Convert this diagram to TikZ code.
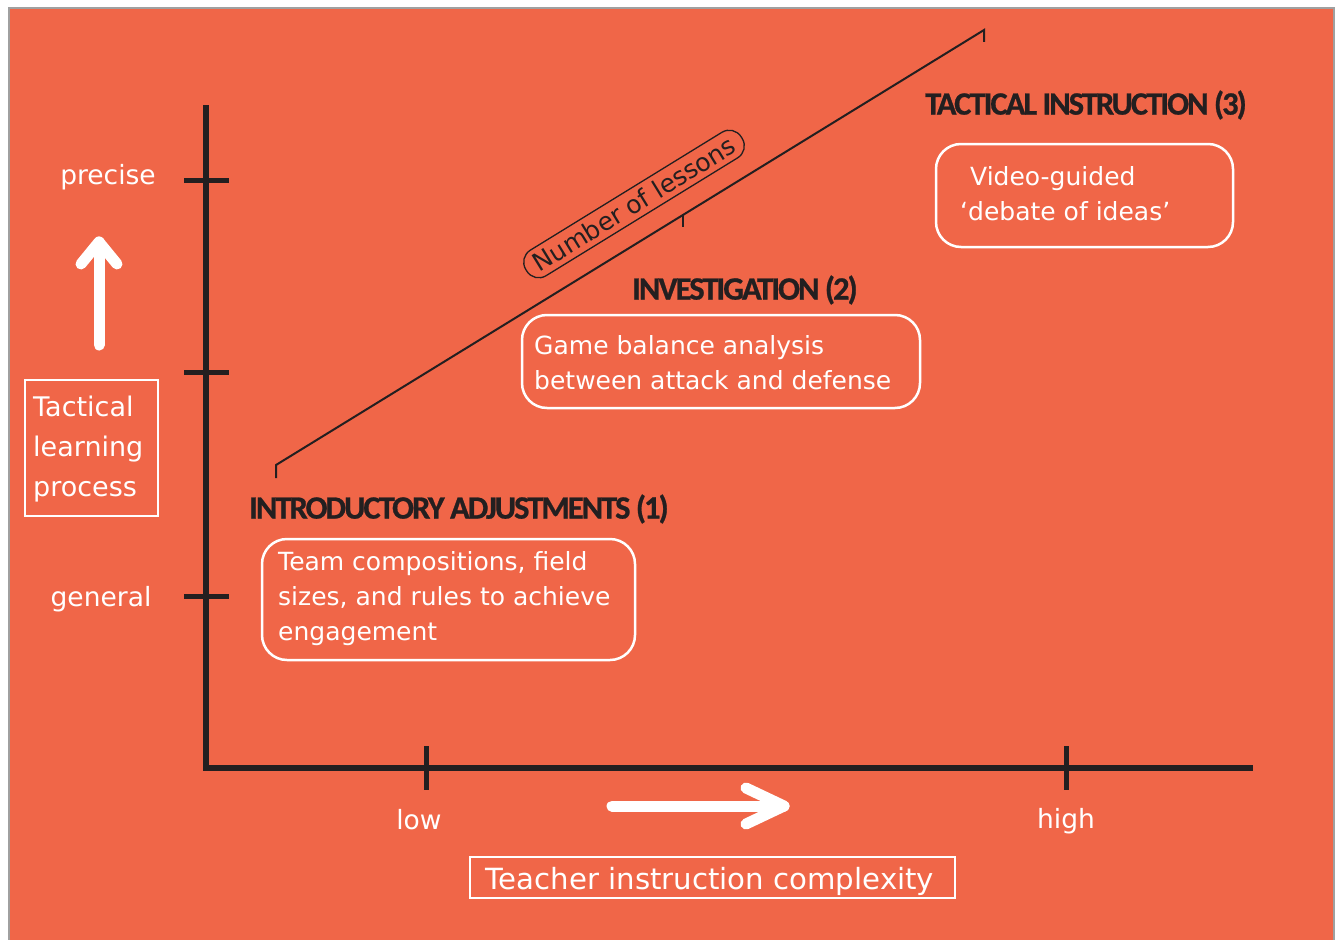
\documentclass[tikz,border=0pt]{standalone}
\usepackage{fontspec}
\setmainfont{DejaVu Sans}
\newfontfamily\headfont[LetterSpace=-6,FakeBold=0.8]{Carlito}
\definecolor{bgorange}{HTML}{F06648}
\definecolor{ink}{HTML}{231F20}
\definecolor{frame}{HTML}{A0A0A0}
\tikzset{
  axis/.style={ink, line width=6.5pt},
  tickmark/.style={ink, line width=5pt},
  wbox/.style={draw=white, line width=2.5pt, rounded corners=25pt, inner sep=0pt},
  sbox/.style={draw=white, line width=2pt, inner sep=0pt},
  body/.style={text=white, font=\fontsize{25}{35}\selectfont, align=left, inner sep=0pt},
  lab/.style={text=white, font=\fontsize{26.5}{32}\selectfont, inner sep=0pt},
  head/.style={text=ink, font=\headfont\bfseries\fontsize{32.5}{36}\selectfont, inner sep=0pt, anchor=west},
  warrow/.style={white, line width=11pt, line cap=round, line join=round},
  thin/.style={ink, line width=2pt}
}
\begin{document}
\begin{tikzpicture}[x=1pt, y=-1pt]
\useasboundingbox (0,0) rectangle (1340,939);
\fill[white] (0,0) rectangle (1340,939);
\filldraw[fill=bgorange, draw=frame, line width=2pt] (9,8) rectangle (1334,945);

% axes
\coordinate (ytop) at (206,108);
\coordinate (origin) at (206,768);
\coordinate (xend) at (1250,768);
\draw[axis, line cap=rect] (ytop) -- (origin) -- (xend);

% y ticks
\coordinate (tp1) at (184,180); \coordinate (tp2) at (229,180);
\coordinate (tm1) at (184,372); \coordinate (tm2) at (229,372);
\coordinate (tg1) at (184,596); \coordinate (tg2) at (229,596);
\draw[tickmark] (tp1) -- (tp2);
\draw[tickmark] (tm1) -- (tm2);
\draw[tickmark] (tg1) -- (tg2);
% x ticks
\coordinate (tl1) at (426,746); \coordinate (tl2) at (426,790);
\coordinate (th1) at (1066,746); \coordinate (th2) at (1066,790);
\draw[tickmark] (tl1) -- (tl2);
\draw[tickmark] (th1) -- (th2);

% axis labels
\node[lab] (precise) at (108,177) {precise};
\node[lab] (general) at (101,599) {general};
\node[lab] (low) at (419,820) {low};
\node[lab] (high) at (1066,821) {high};

% white arrows
\coordinate (ua1) at (99,345); \coordinate (ua2) at (99,242);
\coordinate (ual) at (81,264); \coordinate (uar) at (117,264);
\draw[warrow] (ua1) -- (ua2);
\draw[warrow] (ual) -- (ua2) -- (uar);
\coordinate (ra1) at (612,806); \coordinate (ra2) at (784,806);
\coordinate (rat) at (746,788); \coordinate (rab) at (746,824);
\draw[warrow] (ra1) -- (ra2);
\draw[warrow] (rat) -- (ra2) -- (rab);

% axis title boxes
\node[sbox, minimum width=133pt, minimum height=136pt] (tlbox) at (91.5,448) {};
\node[body, anchor=west, font=\fontsize{27}{40}\selectfont] (tltext) at (33,449) {Tactical\\learning\\process};
\node[sbox, minimum width=485pt, minimum height=41pt] (tcbox) at (712.5,877.5) {};
\node[lab, font=\fontsize{29.2}{32}\selectfont] (tctext) at (710,881) {Teacher instruction complexity};

% diagonal lessons line
\coordinate (d0) at (276,478);
\coordinate (d1) at (276,465);
\coordinate (d2) at (984,30);
\coordinate (d3) at (984,42);
\draw[thin] (d0) -- (d1) -- (d2) -- (d3);
\coordinate (dm1) at (683,215); \coordinate (dm2) at (683,227);
\draw[thin] (dm1) -- (dm2);
\node[draw=ink, line width=1.3pt, rounded corners=14pt, rotate=31.6, inner xsep=10pt, inner ysep=4pt, minimum height=30pt, text=ink, font=\fontsize{25}{28}\selectfont] (lessons) at (634,204) {Number of lessons};

% headings
\node[head] (h3) at (925,105) {TACTICAL INSTRUCTION (3)};
\node[head] (h2) at (632,290) {INVESTIGATION (2)};
\node[head] (h1) at (249,509) {INTRODUCTORY ADJUSTMENTS (1)};

% content boxes
\node[wbox, minimum width=297pt, minimum height=103pt] (b3) at (1084.5,195.5) {};
\node[body, anchor=west] (t3) at (960,194) {\hspace{10pt}Video-guided\\`debate of ideas'};
\node[wbox, minimum width=398pt, minimum height=93pt] (b2) at (721,361.5) {};
\node[body, anchor=west] (t2) at (534,363) {Game balance analysis\\between attack and defense};
\node[wbox, minimum width=373pt, minimum height=121pt] (b1) at (448.5,599.5) {};
\node[body, anchor=west] (t1) at (278,599) {Team compositions, field\\sizes, and rules to achieve\\engagement};
\end{tikzpicture}
\end{document}
